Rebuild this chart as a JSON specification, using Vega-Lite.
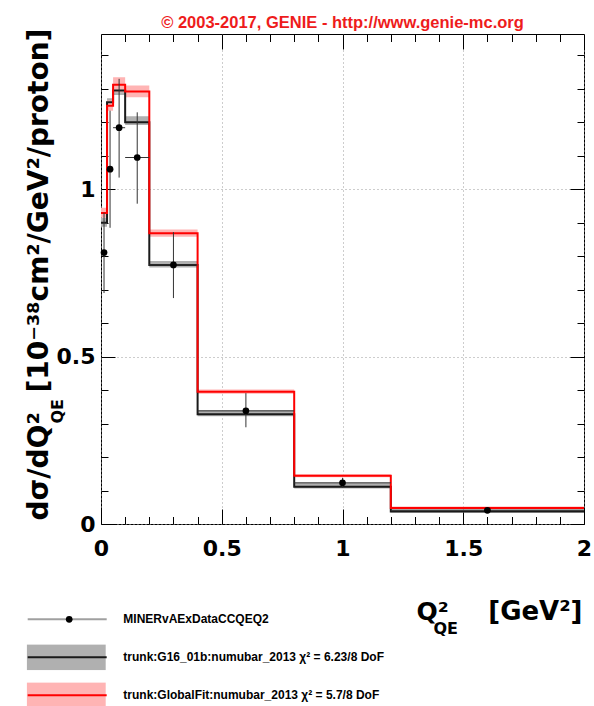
{
  "$schema": "https://vega.github.io/schema/vega-lite/v6.json",
  "width": 483,
  "height": 490,
  "autosize": {"type": "none"},
  "padding": {"left": 101, "top": 34, "right": 10, "bottom": 182},
  "background": "white",
  "title": {"text": "© 2003-2017, GENIE - http://www.genie-mc.org", "color": "#ee1c1c", "font": "Liberation Sans", "fontSize": 16.5, "fontWeight": "bold", "anchor": "middle", "frame": "group", "baseline": "alphabetic", "offset": 8, "dy": 24},
  "datasets": {
    "hist": [
      {"label": "trunk:G16_01b:numubar_2013 χ² = 6.23/8 DoF", "m": "G16", "x": 0, "y": 0.900, "lo": 0.888, "hi": 0.915},
      {"label": "trunk:G16_01b:numubar_2013 χ² = 6.23/8 DoF", "m": "G16", "x": 0.025, "y": 1.260, "lo": 1.248, "hi": 1.272},
      {"label": "trunk:G16_01b:numubar_2013 χ² = 6.23/8 DoF", "m": "G16", "x": 0.05, "y": 1.295, "lo": 1.282, "hi": 1.308},
      {"label": "trunk:G16_01b:numubar_2013 χ² = 6.23/8 DoF", "m": "G16", "x": 0.1, "y": 1.200, "lo": 1.192, "hi": 1.218},
      {"label": "trunk:G16_01b:numubar_2013 χ² = 6.23/8 DoF", "m": "G16", "x": 0.2, "y": 0.774, "lo": 0.766, "hi": 0.786},
      {"label": "trunk:G16_01b:numubar_2013 χ² = 6.23/8 DoF", "m": "G16", "x": 0.4, "y": 0.328, "lo": 0.322, "hi": 0.340},
      {"label": "trunk:G16_01b:numubar_2013 χ² = 6.23/8 DoF", "m": "G16", "x": 0.8, "y": 0.111, "lo": 0.106, "hi": 0.123},
      {"label": "trunk:G16_01b:numubar_2013 χ² = 6.23/8 DoF", "m": "G16", "x": 1.2, "y": 0.037, "lo": 0.034, "hi": 0.044},
      {"label": "trunk:G16_01b:numubar_2013 χ² = 6.23/8 DoF", "m": "G16", "x": 2.0, "y": 0.037, "lo": 0.034, "hi": 0.044},
      {"label": "trunk:GlobalFit:numubar_2013 χ² = 5.7/8 DoF", "m": "GF", "x": 0, "y": 0.929, "lo": 0.915, "hi": 0.945},
      {"label": "trunk:GlobalFit:numubar_2013 χ² = 5.7/8 DoF", "m": "GF", "x": 0.025, "y": 1.250, "lo": 1.235, "hi": 1.265},
      {"label": "trunk:GlobalFit:numubar_2013 χ² = 5.7/8 DoF", "m": "GF", "x": 0.05, "y": 1.312, "lo": 1.290, "hi": 1.335},
      {"label": "trunk:GlobalFit:numubar_2013 χ² = 5.7/8 DoF", "m": "GF", "x": 0.1, "y": 1.292, "lo": 1.275, "hi": 1.310},
      {"label": "trunk:GlobalFit:numubar_2013 χ² = 5.7/8 DoF", "m": "GF", "x": 0.2, "y": 0.869, "lo": 0.858, "hi": 0.880},
      {"label": "trunk:GlobalFit:numubar_2013 χ² = 5.7/8 DoF", "m": "GF", "x": 0.4, "y": 0.395, "lo": 0.389, "hi": 0.402},
      {"label": "trunk:GlobalFit:numubar_2013 χ² = 5.7/8 DoF", "m": "GF", "x": 0.8, "y": 0.144, "lo": 0.140, "hi": 0.149},
      {"label": "trunk:GlobalFit:numubar_2013 χ² = 5.7/8 DoF", "m": "GF", "x": 1.2, "y": 0.048, "lo": 0.045, "hi": 0.052},
      {"label": "trunk:GlobalFit:numubar_2013 χ² = 5.7/8 DoF", "m": "GF", "x": 2.0, "y": 0.048, "lo": 0.045, "hi": 0.052}
    ],
    "pts": [
      {"label": "MINERvAExDataCCQEQ2", "x": 0.0125, "xlo": 0, "xhi": 0.025, "y": 0.811, "lo": 0.690, "hi": 0.930},
      {"label": "MINERvAExDataCCQEQ2", "x": 0.0375, "xlo": 0.025, "xhi": 0.05, "y": 1.060, "lo": 0.885, "hi": 1.235},
      {"label": "MINERvAExDataCCQEQ2", "x": 0.075, "xlo": 0.05, "xhi": 0.1, "y": 1.184, "lo": 1.035, "hi": 1.330},
      {"label": "MINERvAExDataCCQEQ2", "x": 0.15, "xlo": 0.1, "xhi": 0.2, "y": 1.095, "lo": 0.957, "hi": 1.230},
      {"label": "MINERvAExDataCCQEQ2", "x": 0.3, "xlo": 0.2, "xhi": 0.4, "y": 0.774, "lo": 0.675, "hi": 0.872},
      {"label": "MINERvAExDataCCQEQ2", "x": 0.6, "xlo": 0.4, "xhi": 0.8, "y": 0.338, "lo": 0.289, "hi": 0.391},
      {"label": "MINERvAExDataCCQEQ2", "x": 1.0, "xlo": 0.8, "xhi": 1.2, "y": 0.123, "lo": 0.108, "hi": 0.138},
      {"label": "MINERvAExDataCCQEQ2", "x": 1.6, "xlo": 1.2, "xhi": 2.0, "y": 0.041, "lo": 0.035, "hi": 0.047}
    ]
  },
  "config": {
    "view": {"stroke": "#000", "strokeWidth": 1},
    "axis": {"domain": false, "tickColor": "#000", "tickWidth": 1, "labelFont": "DejaVu Sans", "labelFontWeight": "bold", "labelFontSize": 22, "labelColor": "#000", "titleFont": "DejaVu Sans", "titleFontWeight": "bold", "titleColor": "#000", "grid": false, "labelFlush": false, "labelOverlap": false},
    "legend": {"orient": "none", "padding": 0, "clipHeight": 26, "rowPadding": 12, "labelFont": "Liberation Sans", "labelFontWeight": "bold", "labelFontSize": 12, "labelColor": "#000", "labelOffset": 17.6, "labelLimit": 400}
  },
  "resolve": {"axis": {"x": "independent", "y": "independent"}},
  "layer": [
    {
      "data": {"name": "hist"},
      "mark": {"type": "area", "interpolate": "step-after"},
      "encoding": {
        "x": {"field": "x", "type": "quantitative", "scale": {"domain": [0, 2], "nice": false, "zero": false},
          "axis": {"orient": "bottom", "values": [0, 0.5, 1, 1.5, 2], "format": "~g", "tickSize": -15, "labelPadding": 29, "grid": true, "gridColor": "#9a9a9a", "gridDash": [1, 3], "gridWidth": 1,
            "title": "Q²", "titleFontSize": 25, "titleAlign": "left", "titleBaseline": "alphabetic", "titleX": 315, "titleY": 95}},
        "y": {"field": "lo", "type": "quantitative", "stack": null, "scale": {"domain": [0, 1.464], "nice": false, "zero": false},
          "axis": {"orient": "left", "values": [0, 0.5, 1], "format": "~g", "tickSize": -14, "labelPadding": 20, "grid": true, "gridColor": "#9a9a9a", "gridDash": [1, 3], "gridWidth": 1,
            "title": "dσ/dQ²", "titleFontSize": 28, "titleAngle": -90, "titleAlign": "left", "titleBaseline": "alphabetic", "titleX": -54, "titleY": 486}},
        "y2": {"field": "hi"},
        "fill": {"field": "label", "type": "nominal",
          "scale": {"domain": ["MINERvAExDataCCQEQ2", "trunk:G16_01b:numubar_2013 χ² = 6.23/8 DoF", "trunk:GlobalFit:numubar_2013 χ² = 5.7/8 DoF"], "range": ["rgba(0,0,0,0)", "#b0b0b0", "#ffb4b4"]},
          "legend": {"title": null, "symbolType": "M-1,-0.325H1V0.325H-1Z", "symbolSize": 6241, "symbolStrokeWidth": 0, "symbolOpacity": 1, "legendX": -74.3, "legendY": 572.3}}
      }
    },
    {
      "data": {"name": "hist"},
      "mark": {"type": "line", "interpolate": "step-after", "strokeWidth": 2},
      "encoding": {
        "x": {"field": "x", "type": "quantitative", "scale": {"domain": [0, 2], "nice": false, "zero": false},
          "axis": {"orient": "bottom", "values": [0.1, 0.2, 0.3, 0.4, 0.6, 0.7, 0.8, 0.9, 1.1, 1.2, 1.3, 1.4, 1.6, 1.7, 1.8, 1.9], "tickSize": -7.5, "labels": false,
            "title": "QE", "titleFontSize": 16, "titleAlign": "left", "titleBaseline": "alphabetic", "titleX": 332, "titleY": 109}},
        "y": {"field": "y", "type": "quantitative", "scale": {"domain": [0, 1.464], "nice": false, "zero": false},
          "axis": {"orient": "left", "values": [0.1, 0.2, 0.3, 0.4, 0.6, 0.7, 0.8, 0.9, 1.1, 1.2, 1.3, 1.4], "tickSize": -7, "labels": false,
            "title": "QE", "titleFontSize": 16, "titleAngle": -90, "titleAlign": "left", "titleBaseline": "alphabetic", "titleX": -39, "titleY": 389}},
        "stroke": {"field": "m", "type": "nominal",
          "scale": {"domain": ["data", "G16", "GF"], "range": ["#a0a0a0", "#1a1a1a", "#ff0000"]},
          "legend": {"title": null, "symbolType": "stroke", "symbolSize": 6241, "symbolStrokeWidth": 2, "labelExpr": "''", "legendX": -74.3, "legendY": 572.3}}
      }
    },
    {
      "data": {"name": "pts"},
      "mark": {"type": "rule", "color": "#333333", "strokeWidth": 1},
      "encoding": {
        "x": {"field": "x", "type": "quantitative", "scale": {"domain": [0, 2], "nice": false, "zero": false},
          "axis": {"orient": "top", "values": [0, 0.5, 1, 1.5, 2], "tickSize": -15, "labels": false, "title": null}},
        "y": {"field": "lo", "type": "quantitative", "scale": {"domain": [0, 1.464], "nice": false, "zero": false},
          "axis": {"orient": "right", "values": [0, 0.5, 1], "tickSize": -14, "labels": false, "title": null}},
        "y2": {"field": "hi"}
      }
    },
    {
      "data": {"name": "pts"},
      "mark": {"type": "rule", "color": "#333333", "strokeWidth": 1},
      "encoding": {
        "x": {"field": "xlo", "type": "quantitative", "scale": {"domain": [0, 2], "nice": false, "zero": false},
          "axis": {"orient": "top", "values": [0.1, 0.2, 0.3, 0.4, 0.6, 0.7, 0.8, 0.9, 1.1, 1.2, 1.3, 1.4, 1.6, 1.7, 1.8, 1.9], "tickSize": -7.5, "labels": false, "title": null}},
        "x2": {"field": "xhi"},
        "y": {"field": "y", "type": "quantitative", "scale": {"domain": [0, 1.464], "nice": false, "zero": false},
          "axis": {"orient": "right", "values": [0.1, 0.2, 0.3, 0.4, 0.6, 0.7, 0.8, 0.9, 1.1, 1.2, 1.3, 1.4], "tickSize": -7, "labels": false, "title": null}}
      }
    },
    {
      "data": {"name": "pts"},
      "mark": {"type": "point", "filled": true, "size": 45, "opacity": 1},
      "encoding": {
        "x": {"field": "x", "type": "quantitative", "scale": {"domain": [0, 2], "nice": false, "zero": false},
          "axis": {"orient": "bottom", "ticks": false, "labels": false, "grid": false,
            "title": "[GeV²]", "titleFontSize": 26, "titleAlign": "right", "titleBaseline": "alphabetic", "titleX": 481, "titleY": 95}},
        "y": {"field": "y", "type": "quantitative", "scale": {"domain": [0, 1.464], "nice": false, "zero": false},
          "axis": {"orient": "left", "ticks": false, "labels": false, "grid": false,
            "title": "[10⁻³⁸cm²/GeV²/proton]", "titleFontSize": 28, "titleAngle": -90, "titleAlign": "left", "titleBaseline": "alphabetic", "titleX": -54, "titleY": 358}},
        "color": {"field": "label", "type": "nominal",
          "scale": {"domain": ["MINERvAExDataCCQEQ2"], "range": ["#000000"]},
          "legend": {"title": null, "symbolType": "circle", "symbolSize": 45, "symbolStrokeWidth": 0, "labelExpr": "''", "legendX": -37.8, "legendY": 572.3}}
      }
    }
  ]
}
